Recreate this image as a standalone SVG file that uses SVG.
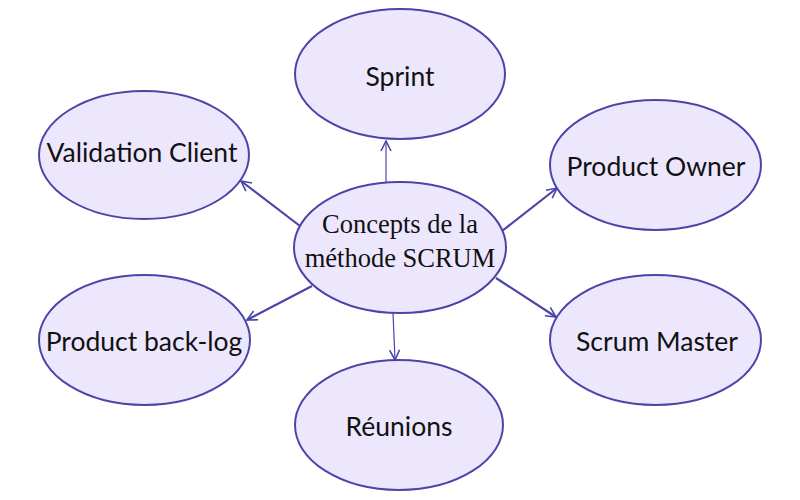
<svg xmlns="http://www.w3.org/2000/svg" width="800" height="500" viewBox="0 0 800 500">
<defs>
<style>
.node ellipse{fill:#ede7fd;stroke:#4b45a8;stroke-width:2}
.lbl{font-family:Lato,"Open Sans","Liberation Sans",sans-serif;font-size:26.5px;fill:#111;text-anchor:middle}
.ctr{font-family:"Liberation Serif","DejaVu Serif",serif;font-size:26.5px;fill:#111;text-anchor:middle}
.edge{stroke:#4b45a8;fill:none}
.thick{stroke-width:2.2}
.thin{stroke-width:1.2}
</style>
<marker id="ah" viewBox="0 0 12 12" refX="11" refY="6" markerWidth="12" markerHeight="12" markerUnits="userSpaceOnUse" orient="auto">
<path d="M1,1 L11,6 L1,11" fill="none" stroke="#4b45a8" stroke-width="1.6"/>
</marker>
</defs>
<rect width="800" height="500" fill="#ffffff"/>
<g id="connectors">
<line class="edge thin" x1="386" y1="182" x2="386" y2="141" marker-end="url(#ah)"/>
<line class="edge thick" x1="300" y1="226" x2="241" y2="181" marker-end="url(#ah)"/>
<line class="edge thick" x1="502" y1="231" x2="557" y2="188" marker-end="url(#ah)"/>
<line class="edge thick" x1="496" y1="278" x2="556" y2="317" marker-end="url(#ah)"/>
<line class="edge thin" x1="393" y1="313" x2="395" y2="360" marker-end="url(#ah)"/>
<line class="edge thick" x1="312" y1="286" x2="247" y2="320" marker-end="url(#ah)"/>
</g>
<g id="sprint" class="node"><ellipse cx="400" cy="74" rx="105" ry="65"/><text class="lbl" x="400" y="86">Sprint</text></g>
<g id="validation-client" class="node"><ellipse cx="144" cy="155" rx="105" ry="64"/><text class="lbl" x="142" y="162">Validation Client</text></g>
<g id="product-owner" class="node"><ellipse cx="655.5" cy="165" rx="105.5" ry="65"/><text class="lbl" x="656" y="176">Product Owner</text></g>
<g id="scrum-master" class="node"><ellipse cx="655.5" cy="340" rx="105.5" ry="65"/><text class="lbl" x="657" y="351">Scrum Master</text></g>
<g id="product-backlog" class="node"><ellipse cx="144.5" cy="340" rx="105.5" ry="65"/><text class="lbl" x="144" y="351">Product back-log</text></g>
<g id="reunions" class="node"><ellipse cx="399" cy="425" rx="104" ry="65"/><text class="lbl" x="399" y="436">Réunions</text></g>
<g id="center" class="node"><ellipse cx="400" cy="247.5" rx="106" ry="65.5"/><text class="ctr" x="400" y="233">Concepts de la</text><text class="ctr" x="400" y="267">méthode SCRUM</text></g>
</svg>
